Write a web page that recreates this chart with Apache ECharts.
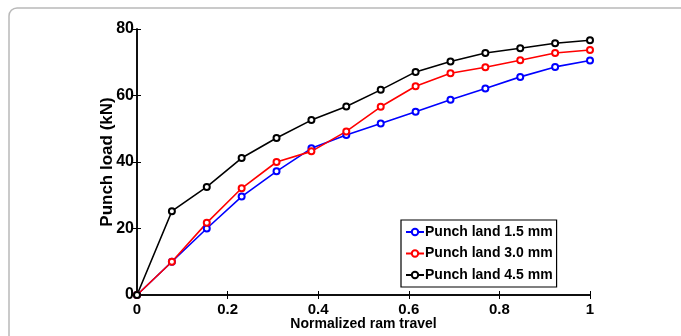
<!DOCTYPE html>
<html lang="en">
<head>
    <meta charset="UTF-8">
    <title>Punch load vs normalized ram travel</title>
    <style>
        html, body { margin: 0; padding: 0; background: #fff; }
        #chart { width: 681px; height: 336px; }
    </style>
</head>
<body>
<div id="chart"></div>
<script src="https://cdn.jsdelivr.net/npm/echarts@6/dist/echarts.min.js"></script>
<script>
    // data
    var travel = [0, 0.077, 0.154, 0.231, 0.308, 0.385, 0.462, 0.538, 0.615, 0.692, 0.769, 0.846, 0.923, 1];
    var land15 = [0, 10, 20, 29.6, 37.2, 44.1, 48.1, 51.6, 55.1, 58.7, 62.1, 65.6, 68.6, 70.5];
    var land30 = [0, 10, 21.7, 32.1, 40, 43.2, 49.2, 56.6, 62.8, 66.7, 68.5, 70.6, 72.8, 73.7];
    var land45 = [0, 25.2, 32.5, 41.2, 47.2, 52.6, 56.7, 61.7, 67.1, 70.2, 72.8, 74.2, 75.7, 76.6];
    var seriesNames = ['Punch land 1.5 mm', 'Punch land 3.0 mm', 'Punch land 4.5 mm'];
    var seriesColors = ['#0000ff', '#ff0000', '#000000'];

    var fontFam = '"Liberation Sans", Arial, sans-serif';

    function pairs(ys) {
        var out = [];
        for (var i = 0; i < travel.length; i++) {
            out.push([travel[i], ys[i]]);
        }
        return out;
    }

    function makeSeries(name, color, ys) {
        return {
            name: name,
            type: 'line',
            data: pairs(ys),
            symbol: 'emptyCircle',
            symbolSize: 6,
            lineStyle: {color: color, width: 1.6},
            itemStyle: {color: color, borderColor: color, borderWidth: 1.4},
            emphasis: {disabled: true},
            animation: false
        };
    }

    function axLine() {
        return {show: true, lineStyle: {color: '#000', width: 1.5}};
    }
    function tickIn() {
        return {show: true, inside: true, length: 4, lineStyle: {color: '#000', width: 1}};
    }

    var chart = echarts.init(document.getElementById('chart'));

    var option = {
        backgroundColor: '#fff',
        animation: false,
        graphic: [{
            type: 'rect',
            shape: {x: 9, y: 8, width: 700, height: 360, r: [8, 0, 0, 0]},
            style: {fill: 'none', stroke: '#b9b9b9', lineWidth: 1.5},
            silent: true
        }],
        grid: {left: 137, right: 91, top: 29, bottom: 38},
        legend: {
            orient: 'vertical',
            left: 401,
            top: 220,
            padding: [5, 4, 5, 4],
            itemGap: 7.5,
            itemWidth: 18,
            itemHeight: 8,
            backgroundColor: '#fff',
            borderColor: '#000',
            borderWidth: 1.2,
            borderRadius: 0,
            textStyle: {fontFamily: fontFam, fontWeight: 'bold', fontSize: 14, color: '#000', padding: [0, 0, 0, -4]},
            data: seriesNames
        },
        xAxis: [{
            type: 'value',
            min: 0, max: 1, interval: 0.2,
            position: 'bottom',
            name: 'Normalized ram travel',
            nameLocation: 'middle',
            nameGap: 22,
            nameMoveOverlap: false,
            nameTextStyle: {fontFamily: fontFam, fontWeight: 'bold', fontSize: 14, color: '#000'},
            axisLine: axLine(),
            axisTick: tickIn(),
            axisLabel: {fontFamily: fontFam, fontWeight: 'bold', fontSize: 15, color: '#000', margin: 7},
            splitLine: {show: false}
        }, {
            type: 'value',
            min: 0, max: 1, interval: 0.2,
            position: 'top',
            axisLine: axLine(),
            axisTick: tickIn(),
            axisLabel: {show: false},
            splitLine: {show: false}
        }],
        yAxis: [{
            type: 'value',
            min: 0, max: 80, interval: 20,
            position: 'left',
            name: 'Punch load (kN)',
            nameLocation: 'middle',
            nameGap: 21,
            nameMoveOverlap: false,
            nameTextStyle: {fontFamily: fontFam, fontWeight: 'bold', fontSize: 17, color: '#000'},
            axisLine: axLine(),
            axisTick: tickIn(),
            axisLabel: {fontFamily: fontFam, fontWeight: 'bold', fontSize: 16, color: '#000', margin: 3},
            splitLine: {show: false}
        }, {
            type: 'value',
            min: 0, max: 80, interval: 20,
            position: 'right',
            axisLine: axLine(),
            axisTick: tickIn(),
            axisLabel: {show: false},
            splitLine: {show: false}
        }],
        series: [
            makeSeries(seriesNames[0], seriesColors[0], land15),
            makeSeries(seriesNames[1], seriesColors[1], land30),
            makeSeries(seriesNames[2], seriesColors[2], land45)
        ]
    };
    chart.setOption(option);
</script>
</body>
</html>
